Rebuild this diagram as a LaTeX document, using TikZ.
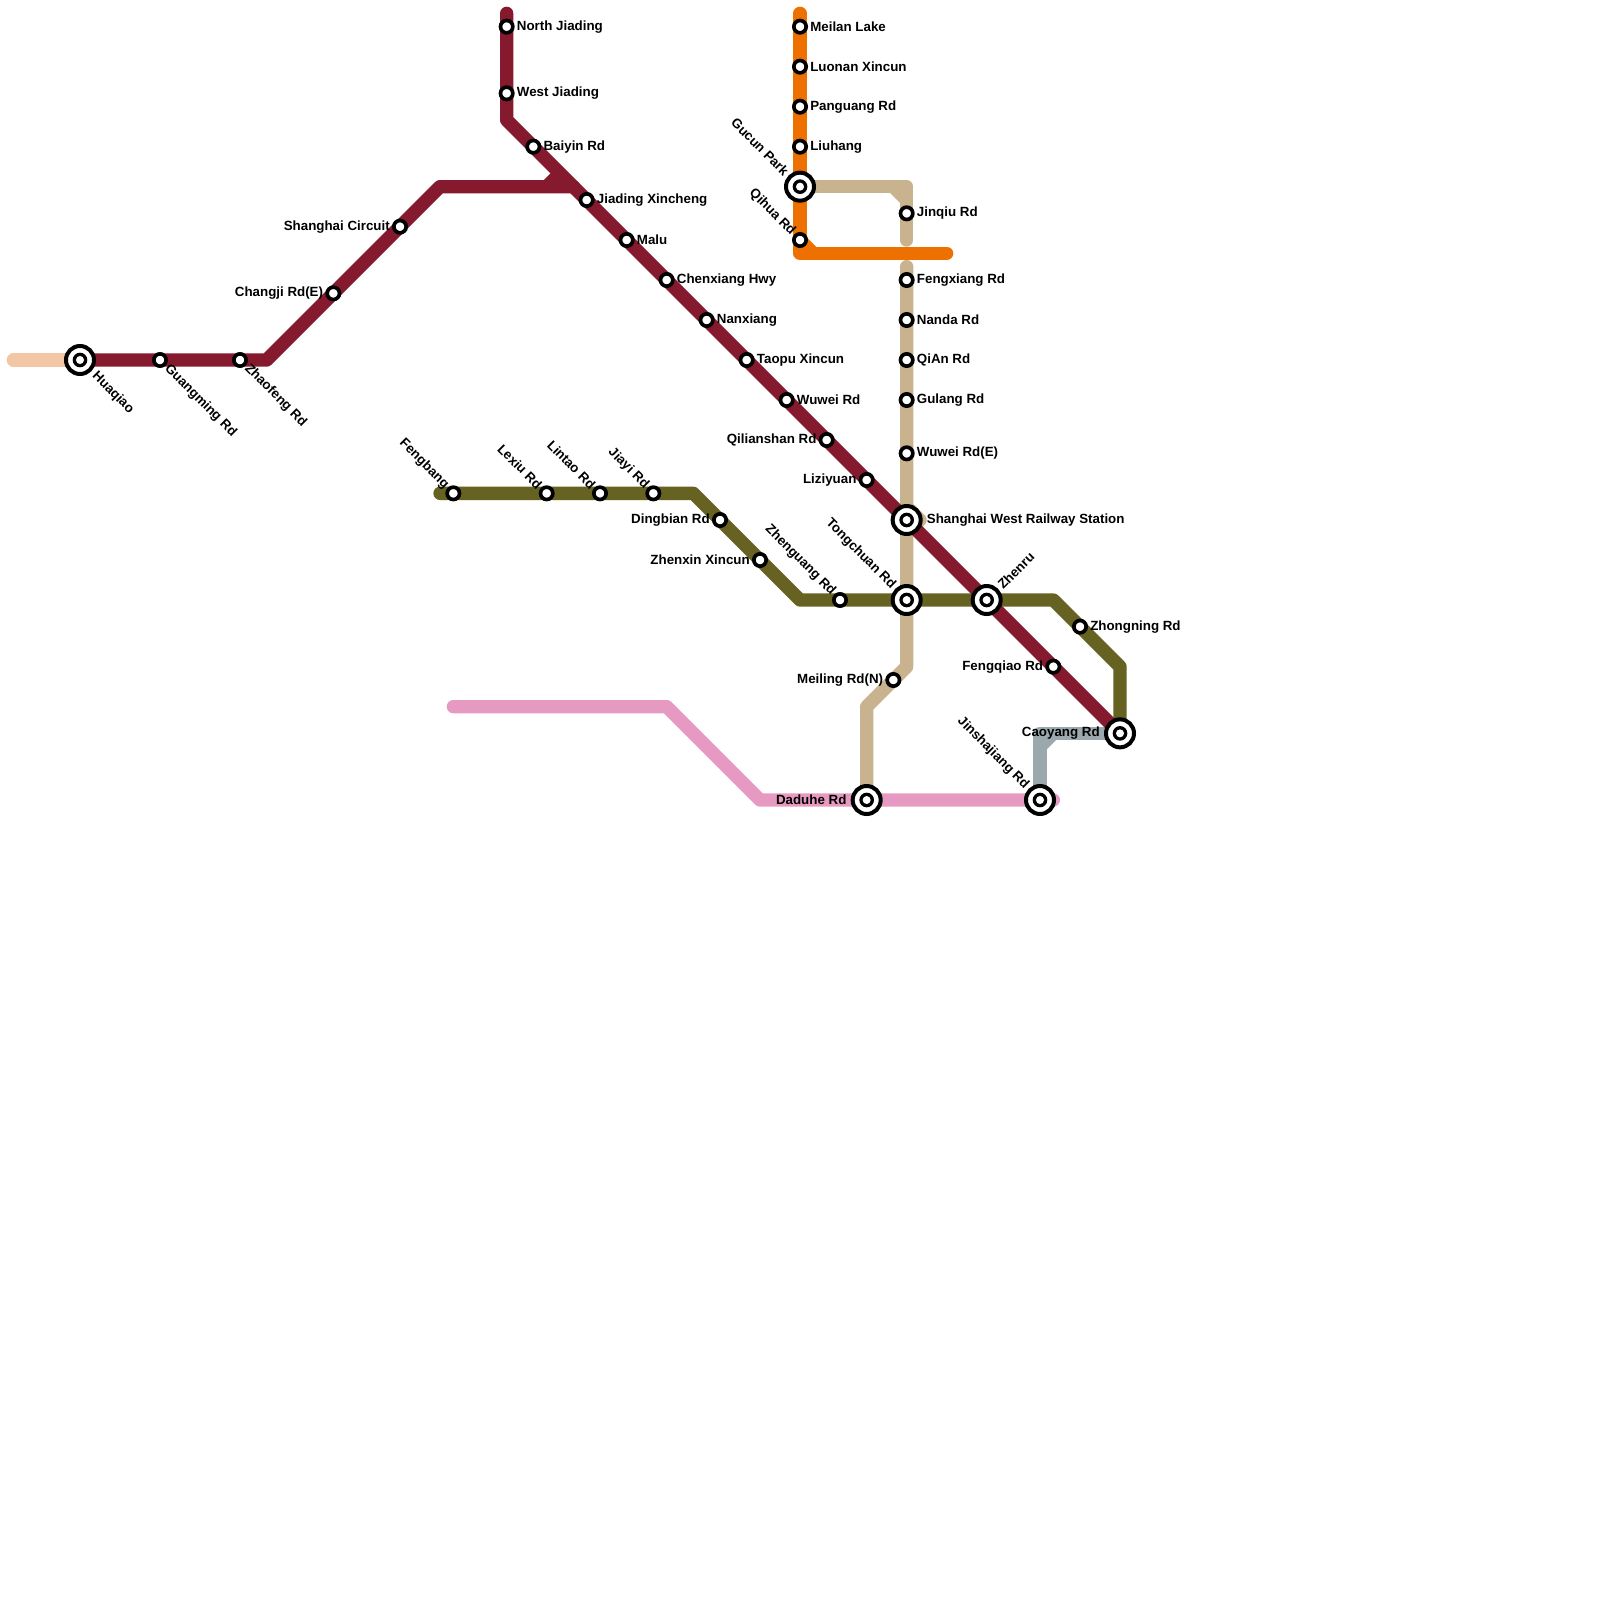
\documentclass[tikz,border=0pt]{standalone}
\usepackage{fontspec}
\setmainfont{Liberation Sans}
\usetikzlibrary{calc}
\pgfdeclarelayer{lines}
\pgfsetlayers{lines,main}
\definecolor{cred}{HTML}{851A2E}
\definecolor{corange}{HTML}{ED7000}
\definecolor{ctan}{HTML}{C9B28E}
\definecolor{colive}{HTML}{666322}
\definecolor{cpink}{HTML}{E69AC1}
\definecolor{cgrey}{HTML}{9BA8AE}
\definecolor{cpeach}{HTML}{F3C7A5}
\tikzset{
 line/.style={line width=10pt,line join=round,line cap=round},
 smallst/.style={circle,draw=black,fill=white,line width=2.75pt,minimum size=9.25pt,inner sep=0pt,outer sep=0pt},
 bigst/.style={circle,draw=black,fill=white,line width=3pt,minimum size=21pt,inner sep=0pt,outer sep=0pt,
   path picture={\fill[black] (path picture bounding box.center) circle (5.5pt);\fill[white] (path picture bounding box.center) circle (3pt);}},
 lab/.style={inner sep=0pt,font=\fontsize{10}{12}\selectfont\bfseries},
 rs/.style={lab,anchor=west,xshift=7.5pt},
 ls/.style={lab,anchor=east,xshift=-7.5pt},
 rb/.style={lab,anchor=west,xshift=15pt},
 lb/.style={lab,anchor=east,xshift=-15pt},
 dr/.style={lab,rotate=-45,anchor=west,xshift=7pt},
 drb/.style={lab,rotate=-45,anchor=west,xshift=15pt},
 ul/.style={lab,rotate=-45,anchor=east,xshift=-7pt},
 ulb/.style={lab,rotate=-45,anchor=east,xshift=-14pt},
 urb/.style={lab,rotate=45,anchor=west,xshift=14pt},
}
\newcommand\stn[6]{\node[#4] (#1) at (#2,#3) {};\node[#5] (#1-l) at (#1) {#6};}
\begin{document}
\begin{tikzpicture}[x=10pt,y=-10pt]
\useasboundingbox (0,0) rectangle (120,120);
% red line
\stn{huaqiao}{6}{27}{bigst}{drb}{Huaqiao}
\stn{guangming}{12}{27}{smallst}{dr}{Guangming Rd}
\stn{zhaofeng}{18}{27}{smallst}{dr}{Zhaofeng Rd}
\stn{changji}{25}{22}{smallst}{ls}{Changji Rd(E)}
\stn{circuit}{30}{17}{smallst}{ls}{Shanghai Circuit}
\stn{njiading}{38}{2}{smallst}{rs}{North Jiading}
\stn{wjiading}{38}{7}{smallst}{rs}{West Jiading}
\stn{baiyin}{40}{11}{smallst}{rs}{Baiyin Rd}
\stn{xincheng}{44}{15}{smallst}{rs}{Jiading Xincheng}
\stn{malu}{47}{18}{smallst}{rs}{Malu}
\stn{chenxiang}{50}{21}{smallst}{rs}{Chenxiang Hwy}
\stn{nanxiang}{53}{24}{smallst}{rs}{Nanxiang}
\stn{taopu}{56}{27}{smallst}{rs}{Taopu Xincun}
\stn{wuwei}{59}{30}{smallst}{rs}{Wuwei Rd}
\stn{qilian}{62}{33}{smallst}{ls}{Qilianshan Rd}
\stn{liziyuan}{65}{36}{smallst}{ls}{Liziyuan}
\stn{swest}{68}{39}{bigst}{rb}{Shanghai West Railway Station}
\stn{zhenru}{74}{45}{bigst}{urb}{Zhenru}
\stn{fengqiao}{79}{50}{smallst}{ls}{Fengqiao Rd}
\stn{caoyang}{84}{55}{bigst}{lb}{Caoyang Rd}
% orange line
\stn{meilan}{60}{2}{smallst}{rs}{Meilan Lake}
\stn{luonan}{60}{5}{smallst}{rs}{Luonan Xincun}
\stn{panguang}{60}{8}{smallst}{rs}{Panguang Rd}
\stn{liuhang}{60}{11}{smallst}{rs}{Liuhang}
\stn{gucun}{60}{14}{bigst}{ulb}{Gucun Park}
\stn{qihua}{60}{18}{smallst}{ul}{Qihua Rd}
% tan line
\stn{jinqiu}{68}{16}{smallst}{rs}{Jinqiu Rd}
\stn{fengxiang}{68}{21}{smallst}{rs}{Fengxiang Rd}
\stn{nanda}{68}{24}{smallst}{rs}{Nanda Rd}
\stn{qian}{68}{27}{smallst}{rs}{QiAn Rd}
\stn{gulang}{68}{30}{smallst}{rs}{Gulang Rd}
\stn{wuweie}{68}{34}{smallst}{rs}{Wuwei Rd(E)}
\stn{tongchuan}{68}{45}{bigst}{ulb}{Tongchuan Rd}
\stn{meiling}{67}{51}{smallst}{ls}{Meiling Rd(N)}
\stn{daduhe}{65}{60}{bigst}{lb}{Daduhe Rd}
% olive line
\stn{fengbang}{34}{37}{smallst}{ul}{Fengbang}
\stn{lexiu}{41}{37}{smallst}{ul}{Lexiu Rd}
\stn{lintao}{45}{37}{smallst}{ul}{Lintao Rd}
\stn{jiayi}{49}{37}{smallst}{ul}{Jiayi Rd}
\stn{dingbian}{54}{39}{smallst}{ls}{Dingbian Rd}
\stn{zhenxin}{57}{42}{smallst}{ls}{Zhenxin Xincun}
\stn{zhenguang}{63}{45}{smallst}{ul}{Zhenguang Rd}
\stn{zhongning}{81}{47}{smallst}{rs}{Zhongning Rd}
% pink / grey
\stn{jinsha}{78}{60}{bigst}{ulb}{Jinshajiang Rd}
% free ends and bends
\coordinate (peachend) at (1,27);
\coordinate (r1) at (20,27);
\coordinate (r2) at (33,14);
\coordinate (r3) at (43,14);
\coordinate (r4) at (41,14);
\coordinate (r5) at (42,13);
\coordinate (r6) at (38,1);
\coordinate (r7) at (38,9);
\coordinate (o1) at (60,1);
\coordinate (o2) at (60,19);
\coordinate (o3) at (61,19);
\coordinate (o4) at (71,19);
\coordinate (t1) at (68,14);
\coordinate (t2) at (67,14);
\coordinate (t3) at (68,15);
\coordinate (t4) at (68,18);
\coordinate (t5) at (68,20);
\coordinate (t6) at (68,50);
\coordinate (t7) at (65,53);
\coordinate (t8) at (68,38);
\coordinate (t9) at (69,39);
\coordinate (t10) at (68,40);
\coordinate (v1) at (33,37);
\coordinate (v2) at (52,37);
\coordinate (v3) at (60,45);
\coordinate (v4) at (79,45);
\coordinate (v5) at (84,50);
\coordinate (p1) at (34,53);
\coordinate (p2) at (50,53);
\coordinate (p3) at (57,60);
\coordinate (p4) at (79,60);
\coordinate (g1) at (78,55);
\coordinate (g2) at (78,56);
\coordinate (g3) at (79,55);
\begin{pgfonlayer}{lines}
\fill[white] (0,0) rectangle (120,120);
\draw[line,cpeach] (peachend) -- (huaqiao.center);
\draw[line,cpink] (p1) -- (p2) -- (p3) -- (daduhe.center) -- (jinsha.center) -- (p4);
\draw[line,cgrey] (jinsha.center) -- (g1) -- (caoyang.center);
\draw[line width=10pt,cgrey,line cap=butt] (g2) -- (g3);
\draw[line,ctan] (gucun.center) -- (t1) -- (t4);
\draw[line width=10pt,ctan,line cap=butt] (t2) -- (t3);
\draw[line,ctan] (t5) -- (t6) -- (t7) -- (daduhe.center);
\draw[line,ctan] (t8) -- (t9) -- (t10);
\draw[line,colive] (v1) -- (v2) -- (v3) -- (v4) -- (v5) -- (caoyang.center);
\draw[line,cred] (huaqiao.center) -- (r1) -- (r2) -- (r3);
\draw[line,cred] (r6) -- (r7) -- (swest.center) -- (caoyang.center);
\draw[line width=10pt,cred,line cap=butt] (r4) -- (r5);
\draw[line,corange] (o1) -- (o2) -- (o4);
\draw[line width=10pt,corange,line cap=butt] (qihua.center) -- (o3);
\end{pgfonlayer}
\end{tikzpicture}
\end{document}
